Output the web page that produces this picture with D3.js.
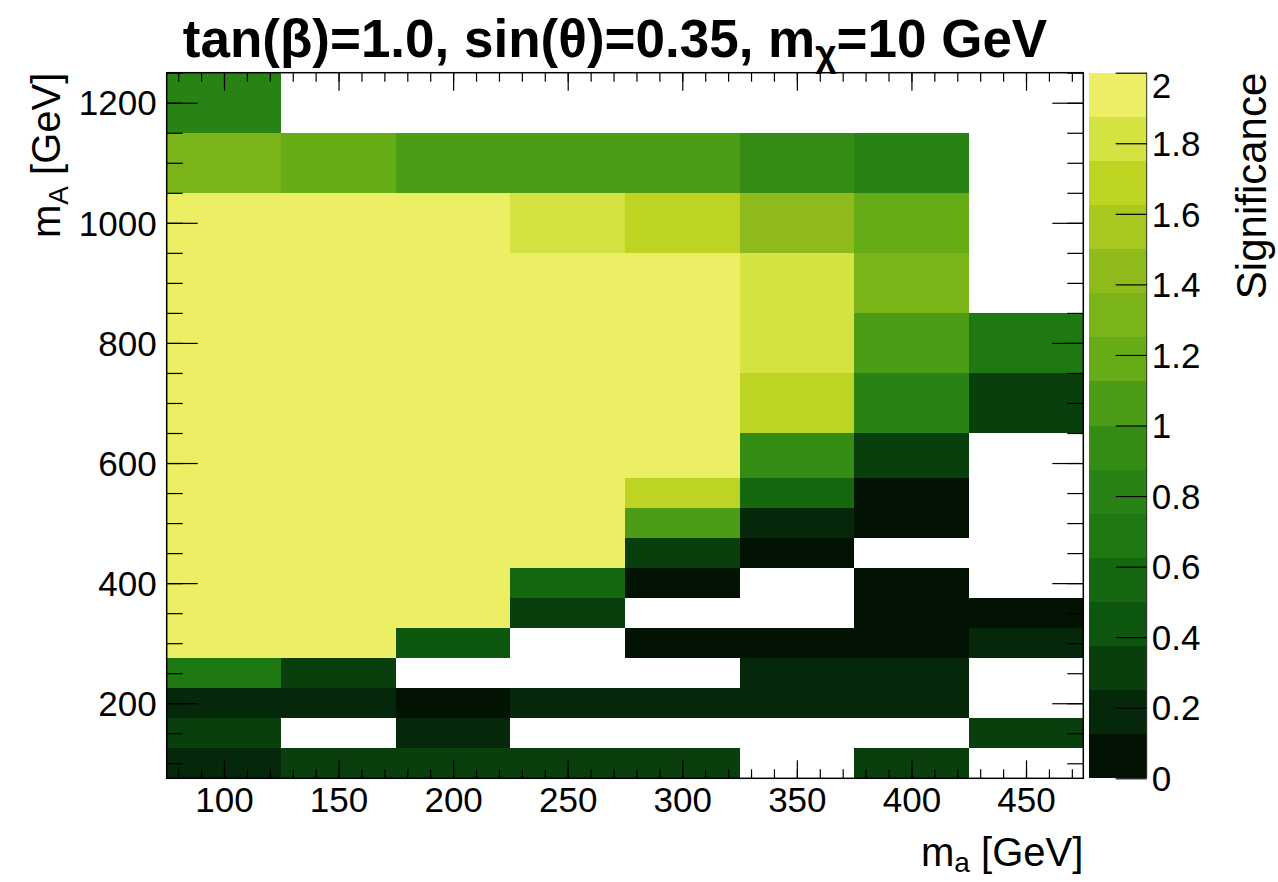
<!DOCTYPE html>
<html><head><meta charset="utf-8">
<script src="https://cdn.jsdelivr.net/npm/d3@7"></script>
<style>
body{margin:0;background:#fff}
svg{display:block}
text{font-family:"Liberation Sans",Arial,Helvetica,sans-serif;fill:#000}
</style>
</head><body>
<svg id="c" width="1278" height="882"></svg>
<script>
// ---- data ----
const xEdges = [75,125,175,225,275,325,375,425,475];          // m_a bin edges [GeV]
const yEdges = [75,125,175,225,275,325,375,425,475,525,575,650,750,850,950,1050,1150,1250]; // m_A bin edges
const xTickLabels = [100,150,200,250,300,350,400,450];
const yTickLabels = [200,400,600,800,1000,1200];
const zTickValues = [0,0.2,0.4,0.6,0.8,1,1.2,1.4,1.6,1.8,2];
const zTickLabels = ["0","0.2","0.4","0.6","0.8","1","1.2","1.4","1.6","1.8","2"];
// significance per m_A row (bottom to top), columns m_a = 100..450; null = empty bin
const sig_mA100  = [0.21,0.33,0.30,0.32,0.29,null,0.34,null];
const sig_mA150  = [0.30,null,0.22,null,null,null,null,0.31];
const sig_mA200  = [0.20,0.19,0.08,0.17,0.21,0.18,0.19,null];
const sig_mA250  = [0.70,0.32,null,null,null,0.20,0.22,null];
const sig_mA300  = [2.0,2.0,0.44,null,0.07,0.09,0.08,0.18];
const sig_mA350  = [2.0,2.0,2.0,0.30,null,null,0.06,0.07];
const sig_mA400  = [2.0,2.0,2.0,0.55,0.08,null,0.09,null];
const sig_mA450  = [2.0,2.0,2.0,2.0,0.31,0.10,null,null];
const sig_mA500  = [2.0,2.0,2.0,2.0,1.08,0.20,0.07,null];
const sig_mA550  = [2.0,2.0,2.0,2.0,1.70,0.58,0.09,null];
const sig_mA600  = [2.0,2.0,2.0,2.0,1.95,0.93,0.33,null];
const sig_mA700  = [2.0,2.0,2.0,2.0,1.97,1.69,0.81,0.30];
const sig_mA800  = [2.0,2.0,2.0,2.0,1.96,1.82,1.06,0.68];
const sig_mA900  = [2.0,2.0,2.0,2.0,1.93,1.80,1.31,null];
const sig_mA1000 = [2.0,2.0,2.0,1.81,1.69,1.44,1.19,null];
const sig_mA1100 = [1.30,1.20,1.07,1.06,1.05,0.94,0.82,null];
const sig_mA1200 = [0.81,null,null,null,null,null,null,null];
const rows = [sig_mA100,sig_mA150,sig_mA200,sig_mA250,sig_mA300,sig_mA350,sig_mA400,sig_mA450,
  sig_mA500,sig_mA550,sig_mA600,sig_mA700,sig_mA800,sig_mA900,sig_mA1000,sig_mA1100,sig_mA1200];

// ---- palette (kAvocado-like gradient, 16 contour bands) ----
const stopR = [0,4,12,30,52,101,142,190,237];
const stopG = [0,40,86,121,140,172,187,213,240];
const stopB = [0,9,14,18,21,23,27,35,101];
const NCOL = 255, NCONT = 16, zMin = 0, zMax = 2;
const pal = [];
for (let g = 1; g < 9; g++) {
  const n = Math.floor(NCOL*g/8) - Math.floor(NCOL*(g-1)/8);
  for (let c = 0; c < n; c++) {
    pal.push(d3.rgb(
      Math.round(stopR[g-1] + c*(stopR[g]-stopR[g-1])/n),
      Math.round(stopG[g-1] + c*(stopG[g]-stopG[g-1])/n),
      Math.round(stopB[g-1] + c*(stopB[g]-stopB[g-1])/n)).formatHex());
  }
}
const bandColors = d3.range(NCONT).map(i => pal[Math.min(NCOL-1, Math.floor((i+0.99)*NCOL/NCONT))]);
const colorScale = d3.scaleQuantize().domain([zMin, zMax]).range(bandColors);
const colorOf = v => colorScale(Math.max(zMin, Math.min(zMax - 1e-9, v)));

// ---- layout ----
const L = 166.7, R = 1083.3, T = 72.7, B = 778.3;
const x = d3.scaleLinear().domain([75,475]).range([L,R]);
const y = d3.scaleLinear().domain([75,1250]).range([B,T]);
const svg = d3.select("#c");

// cells
const cells = [];
rows.forEach((row, r) => row.forEach((v, c) => { if (v !== null) cells.push({r, c, v}); }));
svg.append("g").selectAll("rect").data(cells).join("rect")
  .attr("x", d => x(xEdges[d.c]))
  .attr("width", d => x(xEdges[d.c+1]) - x(xEdges[d.c]))
  .attr("y", d => y(yEdges[d.r+1]))
  .attr("height", d => y(yEdges[d.r]) - y(yEdges[d.r+1]))
  .attr("fill", d => colorOf(d.v))
  .attr("shape-rendering", "crispEdges");

const tickFont = 35;
function styleAxis(g) {
  g.select(".domain").remove();
  g.selectAll(".tick line").attr("stroke", "#000").attr("stroke-width", 1.2);
  g.selectAll("text").attr("font-size", tickFont).attr("fill", "#000")
    .style("font-family", '"Liberation Sans",Arial,sans-serif');
}
const xMinor = d3.range(80, 475, 10);
const yMinor = d3.range(100, 1251, 50);

// x axes
svg.append("g").attr("transform", `translate(0,${B})`)
  .call(d3.axisBottom(x).tickValues(xMinor).tickFormat("").tickSizeInner(-9).tickSizeOuter(0)).call(styleAxis);
svg.append("g").attr("transform", `translate(0,${B})`)
  .call(d3.axisBottom(x).tickValues(xTickLabels).tickFormat(d3.format("d")).tickSizeInner(-18).tickSizeOuter(0).tickPadding(9))
  .call(styleAxis);
svg.append("g").attr("transform", `translate(0,${T})`)
  .call(d3.axisTop(x).tickValues(xMinor).tickFormat("").tickSizeInner(-9).tickSizeOuter(0)).call(styleAxis);
svg.append("g").attr("transform", `translate(0,${T})`)
  .call(d3.axisTop(x).tickValues(xTickLabels).tickFormat("").tickSizeInner(-18).tickSizeOuter(0)).call(styleAxis);

// y axes
svg.append("g").attr("transform", `translate(${L},0)`)
  .call(d3.axisLeft(y).tickValues(yMinor).tickFormat("").tickSizeInner(-16).tickSizeOuter(0)).call(styleAxis);
svg.append("g").attr("transform", `translate(${L},0)`)
  .call(d3.axisLeft(y).tickValues(yTickLabels).tickFormat(d3.format("d")).tickSizeInner(-31).tickSizeOuter(0).tickPadding(10))
  .call(styleAxis).call(g => g.selectAll("text").attr("dy", "0.35em"));
svg.append("g").attr("transform", `translate(${R},0)`)
  .call(d3.axisRight(y).tickValues(yMinor).tickFormat("").tickSizeInner(-16).tickSizeOuter(0)).call(styleAxis);
svg.append("g").attr("transform", `translate(${R},0)`)
  .call(d3.axisRight(y).tickValues(yTickLabels).tickFormat("").tickSizeInner(-31).tickSizeOuter(0)).call(styleAxis);

// frame
svg.append("rect").attr("x", L).attr("y", T).attr("width", R-L).attr("height", B-T)
  .attr("fill", "none").attr("stroke", "#000").attr("stroke-width", 1.5);

// colour bar
const CL = 1089.3, CR = 1146.7;
const z = d3.scaleLinear().domain([zMin, zMax]).range([B, T]);
const bands = d3.range(NCONT).map(i => ({lo: zMin + i*(zMax-zMin)/NCONT, hi: zMin + (i+1)*(zMax-zMin)/NCONT, col: bandColors[i]}));
svg.append("g").selectAll("rect").data(bands).join("rect")
  .attr("x", CL).attr("width", CR-CL)
  .attr("y", d => z(d.hi)).attr("height", d => z(d.lo) - z(d.hi))
  .attr("fill", d => d.col).attr("shape-rendering", "crispEdges");
svg.append("line").attr("x1", CR).attr("x2", CR).attr("y1", T).attr("y2", B).attr("stroke", "#333").attr("stroke-width", 1);
svg.append("g").attr("transform", `translate(${CR},0)`)
  .call(d3.axisRight(z).tickValues(zTickValues).tickFormat((d,i) => zTickLabels[i]).tickSizeInner(-31).tickSizeOuter(0).tickPadding(5))
  .call(styleAxis)
  .call(g => g.selectAll("text").attr("dy", d => d === zMax ? "0.72em" : "0.35em"));

// titles
const title = svg.append("text").attr("x", 615).attr("y", 57).attr("text-anchor", "middle")
  .attr("font-size", 53).attr("font-weight", "bold");
title.append("tspan").text("tan(β)=1.0, sin(θ)=0.35, m");
title.append("tspan").attr("font-size", 37).attr("dy", 9).text("χ");
title.append("tspan").attr("dy", -9).text("=10 GeV");

const xt = svg.append("text").attr("x", R).attr("y", 866).attr("text-anchor", "end").attr("font-size", 40);
xt.append("tspan").text("m");
xt.append("tspan").attr("font-size", 28).attr("dy", 6).text("a");
xt.append("tspan").attr("dy", -6).text(" [GeV]");

const yt = svg.append("text").attr("transform", `translate(60,${T}) rotate(-90)`).attr("text-anchor", "end").attr("font-size", 40);
yt.append("tspan").text("m");
yt.append("tspan").attr("font-size", 28).attr("dy", 8).text("A");
yt.append("tspan").attr("dy", -8).text(" [GeV]");

svg.append("text").attr("transform", `translate(1266,${T}) rotate(-90)`).attr("text-anchor", "end")
  .attr("font-size", 42).text("Significance");
</script>
</body></html>
